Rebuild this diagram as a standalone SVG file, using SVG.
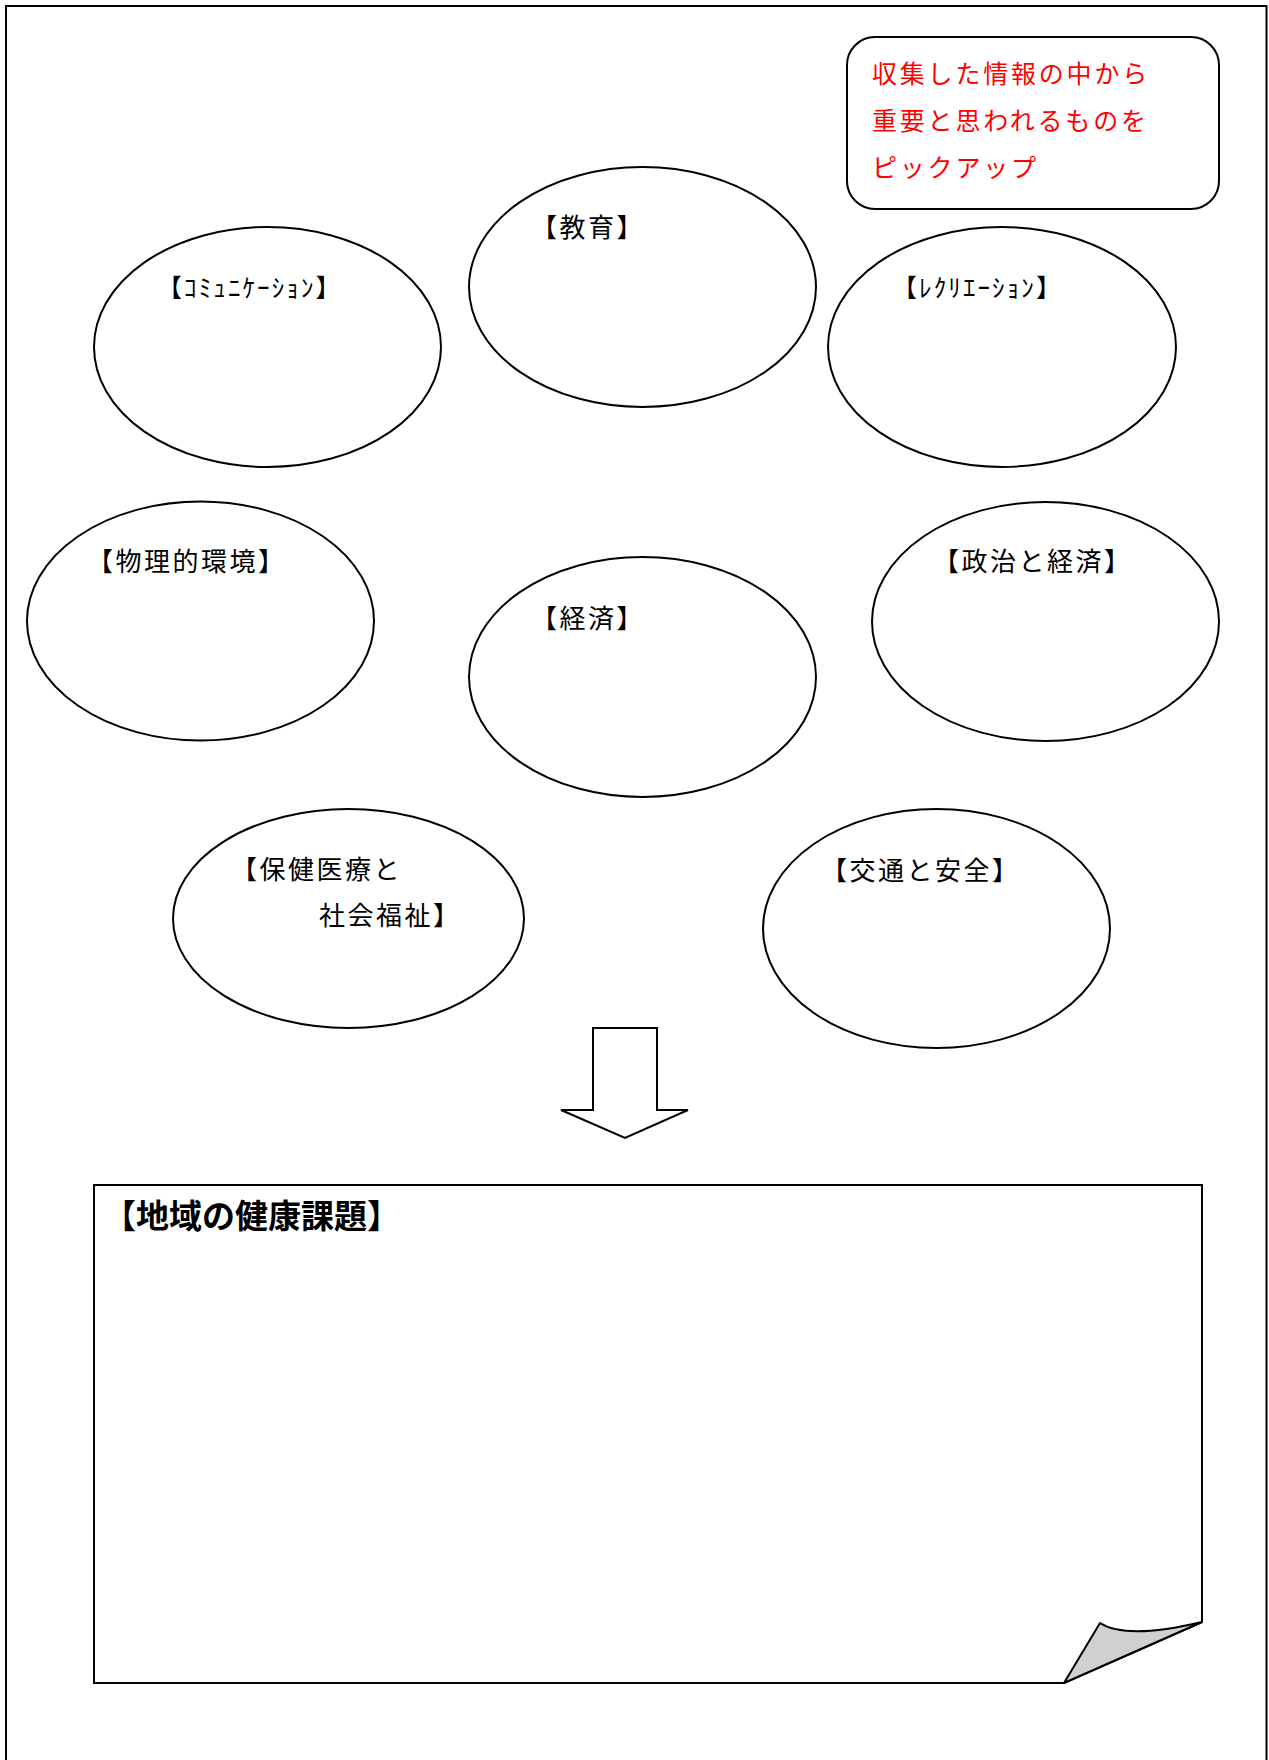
<svg xmlns="http://www.w3.org/2000/svg" width="1269" height="1760" viewBox="0 0 1269 1760">
<style>
.shape{fill:#fff;stroke:#000;stroke-width:2}
.lbl{font-family:"Noto Sans CJK JP","Noto Sans",sans-serif;font-size:26px;letter-spacing:2.5px;fill:#000}
.hw{font-family:"Noto Sans CJK JP","Noto Sans",sans-serif;font-size:25px;letter-spacing:2.1px;fill:#000}
.red{font-family:"Noto Sans CJK JP","Noto Sans",sans-serif;font-size:25px;fill:#ff0000;letter-spacing:2.8px}
.title{font-family:"Noto Sans CJK JP","Noto Sans",sans-serif;font-size:33px;font-weight:bold;fill:#000}
</style>
<rect x="0" y="0" width="1269" height="1760" fill="#fff"/>
<path d="M6,1770 V6 H1266.5 V1770" fill="none" stroke="#000" stroke-width="2"/>

<g id="note">
<rect x="847" y="37" width="372" height="172" rx="28" ry="28" class="shape"/>
<text class="red" x="872" y="83">収集した情報の中から</text>
<text class="red" x="872" y="130">重要と思われるものを</text>
<text class="red" x="872" y="177">ピックアップ</text>
</g>

<g id="communication">
<ellipse cx="267.5" cy="347" rx="173.5" ry="120" class="shape"/>
<text class="hw" x="157" y="297">【ｺﾐｭﾆｹｰｼｮﾝ】</text>
</g>
<g id="education">
<ellipse cx="642.5" cy="287" rx="173.5" ry="120" class="shape"/>
<text class="lbl" x="531" y="237">【教育】</text>
</g>
<g id="recreation">
<ellipse cx="1002" cy="347" rx="174" ry="120" class="shape"/>
<text class="hw" x="892" y="297">【ﾚｸﾘｴｰｼｮﾝ】</text>
</g>
<g id="physical-environment">
<ellipse cx="200.5" cy="621" rx="173.5" ry="119.5" class="shape"/>
<text class="lbl" x="87" y="571">【物理的環境】</text>
</g>
<g id="economy">
<ellipse cx="642.5" cy="677" rx="173.5" ry="120" class="shape"/>
<text class="lbl" x="531" y="628">【経済】</text>
</g>
<g id="politics-economy">
<ellipse cx="1045.5" cy="621.5" rx="173.5" ry="119.5" class="shape"/>
<text class="lbl" x="933" y="571">【政治と経済】</text>
</g>
<g id="health-welfare">
<ellipse cx="348.5" cy="918.5" rx="175.5" ry="109.5" class="shape"/>
<text class="lbl" x="231" y="879">【保健医療と</text>
<text class="lbl" x="319" y="925">社会福祉】</text>
</g>
<g id="traffic-safety">
<ellipse cx="936.5" cy="928.5" rx="173.5" ry="119.5" class="shape"/>
<text class="lbl" x="821" y="880">【交通と安全】</text>
</g>

<g id="connectors">
<polygon points="593,1028 657,1028 657,1110 688,1110 625,1138 561,1110 593,1110" class="shape"/>
</g>

<g id="health-issues">
<path d="M94,1185 H1202 V1622 L1064,1683 H94 Z" class="shape"/>
<path d="M1064,1683 L1100,1623 C1120,1636 1160,1632 1202,1622 Z" fill="#d0d0d0" stroke="#000" stroke-width="2" stroke-linejoin="round"/>
<text class="title" x="103" y="1228">【地域の健康課題】</text>
</g>
</svg>
